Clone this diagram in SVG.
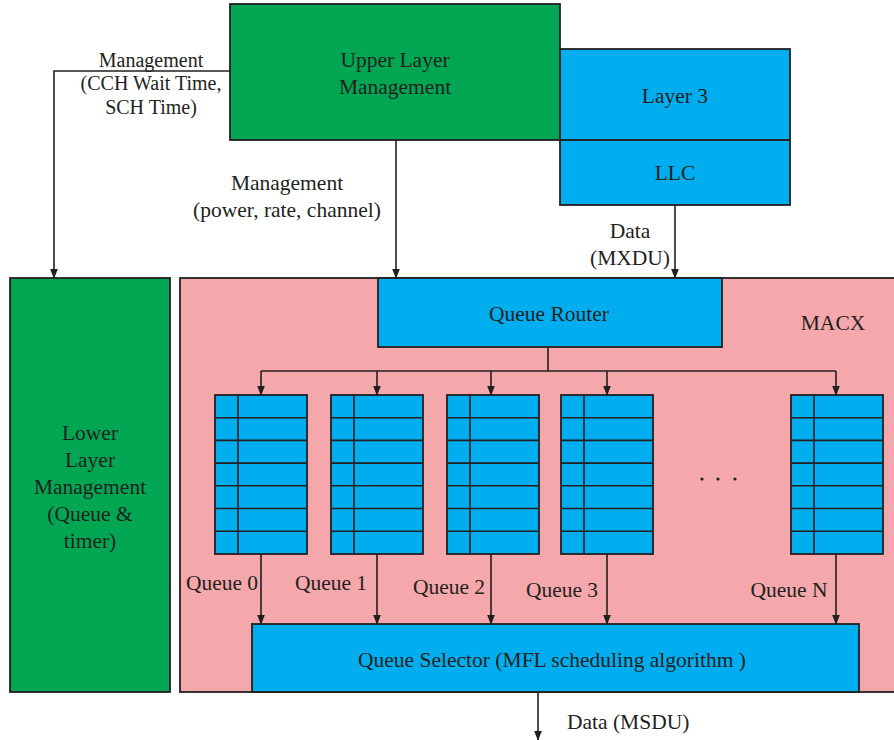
<svg xmlns="http://www.w3.org/2000/svg" width="894" height="740" viewBox="0 0 894 740">
<style>
.box{stroke:#231f20;stroke-width:1.8}
.g{fill:#00a651}
.b{fill:#00aeef}
.p{fill:#f5a8ab}
.t{font-family:"Liberation Serif","Times New Roman",serif;font-size:21.5px;fill:#231f20;text-anchor:middle}
.s{font-size:20px}
.l{fill:none;stroke:#231f20;stroke-width:1.6}
.c{fill:none;stroke:#231f20;stroke-width:1.6;marker-end:url(#ah)}
</style>
<defs>
<marker id="ah" markerWidth="10" markerHeight="10" refX="9" refY="5" orient="auto" markerUnits="userSpaceOnUse">
<path d="M0,1.2 L10,5 L0,8.8 Z" fill="#231f20"/>
</marker>
<g id="qgrid">
<rect class="box b" x="0" y="0" width="92" height="159"/>
<path class="l" d="M23,0 V159 M0,22.7 H92 M0,45.4 H92 M0,68.1 H92 M0,90.8 H92 M0,113.5 H92 M0,136.2 H92"/>
</g>
</defs>
<rect width="894" height="740" fill="#fff"/>

<g id="macx">
<rect class="box p" x="180" y="278" width="730" height="414"/>
<text class="t" x="833" y="330">MACX</text>
</g>

<g id="upper-layer-management">
<rect class="box g" x="230" y="4" width="330" height="136"/>
<text class="t" x="395" y="67">Upper Layer</text>
<text class="t" x="395" y="94">Management</text>
</g>

<g id="layer3">
<rect class="box b" x="560" y="49" width="230" height="91"/>
<text class="t" x="675" y="103">Layer 3</text>
</g>

<g id="llc">
<rect class="box b" x="560" y="140" width="230" height="65"/>
<text class="t" x="675" y="180">LLC</text>
</g>

<g id="lower-layer-management">
<rect class="box g" x="10" y="278" width="160" height="414"/>
<text class="t" x="90" y="440">Lower</text>
<text class="t" x="90" y="467">Layer</text>
<text class="t" x="90" y="494">Management</text>
<text class="t" x="90" y="521">(Queue &amp;</text>
<text class="t" x="90" y="548">timer)</text>
</g>

<g id="queue-router">
<rect class="box b" x="378" y="278" width="344" height="69"/>
<text class="t" x="549" y="321">Queue Router</text>
</g>

<g id="queue0"><use href="#qgrid" x="215" y="395"/></g>
<g id="queue1"><use href="#qgrid" x="331" y="395"/></g>
<g id="queue2"><use href="#qgrid" x="447" y="395"/></g>
<g id="queue3"><use href="#qgrid" x="561" y="395"/></g>
<g id="queueN"><use href="#qgrid" x="791" y="395"/></g>

<g id="dots" fill="#231f20">
<circle cx="702" cy="479" r="1.6"/>
<circle cx="718" cy="479" r="1.6"/>
<circle cx="735" cy="479" r="1.6"/>
</g>

<g id="queue-selector">
<rect class="box b" x="252" y="624" width="607" height="68"/>
<text class="t" x="552" y="667">Queue Selector (MFL scheduling algorithm )</text>
</g>

<g id="connectors">
<path class="c" d="M230,71 H54 V278"/>
<path class="c" d="M396,140 V278"/>
<path class="c" d="M675,205 V278"/>
<path class="l" d="M548,347 V371 M261,371 H836"/>
<path class="c" d="M261,371 V395"/>
<path class="c" d="M377,371 V395"/>
<path class="c" d="M491,371 V395"/>
<path class="c" d="M607,371 V395"/>
<path class="c" d="M836,371 V395"/>
<path class="c" d="M261,554 V624"/>
<path class="c" d="M377,554 V624"/>
<path class="c" d="M491,554 V624"/>
<path class="c" d="M607,554 V624"/>
<path class="c" d="M836,554 V624"/>
<path class="c" d="M538,692 V740"/>
</g>

<g id="labels">
<text class="t s" x="151" y="67">Management</text>
<text class="t s" x="151" y="90">(CCH Wait Time,</text>
<text class="t s" x="151" y="114">SCH Time)</text>
<text class="t" x="287" y="190">Management</text>
<text class="t" x="287" y="217">(power, rate, channel)</text>
<text class="t" x="630" y="238">Data</text>
<text class="t" x="630" y="265">(MXDU)</text>
<text class="t" x="222" y="590">Queue 0</text>
<text class="t" x="331" y="590">Queue 1</text>
<text class="t" x="449" y="594">Queue 2</text>
<text class="t" x="562" y="597">Queue 3</text>
<text class="t" x="789" y="597">Queue N</text>
<text class="t" x="567" y="729" style="text-anchor:start">Data (MSDU)</text>
</g>
</svg>
